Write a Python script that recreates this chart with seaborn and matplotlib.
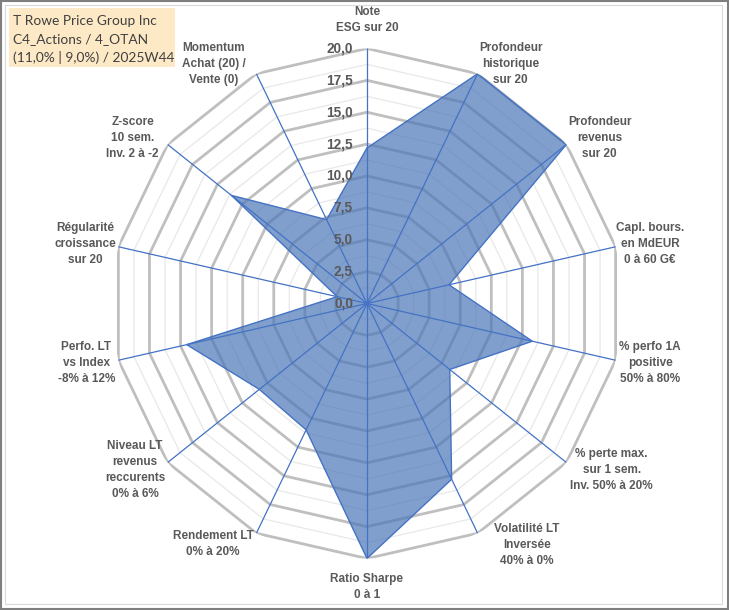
import numpy as np
import pandas as pd
import matplotlib
matplotlib.use("Agg")
import matplotlib.pyplot as plt
import matplotlib.transforms as mtransforms
from matplotlib.patches import Rectangle
import seaborn as sns

# ---------------- data ----------------
categories = [
    "Note\nESG sur 20",
    "Profondeur\nhistorique\nsur 20",
    "Profondeur\nrevenus\nsur 20",
    "Capl. bours.\nen MdEUR\n0 à 60 G€",
    "% perfo 1A\npositive\n50% à 80%",
    "% perte max.\nsur 1 sem.\nInv. 50% à 20%",
    "Volatilité LT\nInversée\n40% à 0%",
    "Ratio Sharpe\n0 à 1",
    "Rendement LT\n0% à 20%",
    "Niveau LT\nrevenus\nreccurents\n0% à 6%",
    "Perfo. LT\nvs Index\n-8% à 12%",
    "Régularité\ncroissance\nsur 20",
    "Z-score\n10 sem.\nInv. 2 à -2",
    "Momentum\nAchat (20) /\nVente (0)",
]
values = [12.2, 20.0, 20.0, 6.6, 13.3, 8.3, 15.3, 20.0, 11.0, 10.8, 14.5, 2.4, 13.6, 7.3]
tick_values = [0, 2.5, 5, 7.5, 10, 12.5, 15, 17.5, 20]
tick_labels = ["0,0", "2,5", "5,0", "7,5", "10,0", "12,5", "15,0", "17,5", "20,0"]
title_lines = ["T Rowe Price Group Inc", "C4_Actions / 4_OTAN", "(11,0% | 9,0%) / 2025W44"]

# label placement (angle in degrees clockwise from top, radius in axis units)
label_angles = [0, 31, 54.6, 78.1, 101.8, 124.2, 146.4, 180, 212.6, 234.3, 258, 281.9, 305.2, 327.4]
label_radii = [22.2, 21.9, 22.4, 22.7, 22.7, 23.2, 22.7, 22.2, 22.4, 22.4, 22.5, 22.6, 22.5, 22.3]

# ---------------- style ----------------
sns.set_theme(style="white")
plt.rcParams["font.family"] = ["Liberation Sans", "DejaVu Sans"]

W, H = 729, 610
fig = plt.figure(figsize=(W / 100, H / 100), dpi=100)
fig.patch.set_facecolor("white")

cx, cy, R = 367, 303.5, 255
ax = fig.add_axes([(cx - R) / W, (H - cy - R) / H, 2 * R / W, 2 * R / H], projection="polar")
ax.set_facecolor("none")
ax.set_theta_zero_location("N")
ax.set_theta_direction(-1)
ax.set_ylim(0, 20)
ax.spines["polar"].set_visible(False)

n = len(categories)
angles = np.arange(n) * 2 * np.pi / n
closed = np.append(angles, angles[0])

# spokes (theta grid)
ax.set_xticks(angles)
ax.set_xticklabels([])
ax.xaxis.grid(True, color="#4472C4", linewidth=0.9, zorder=4)
ax.yaxis.grid(False)
ax.set_yticks([])
ax.set_axisbelow(False)

# polygon grid: minor and major
for lvl in np.arange(1.25, 20.01, 2.5):
    ax.plot(closed, [lvl] * (n + 1), color="#E8E8E8", linewidth=0.9, zorder=1)
for lvl in tick_values[1:]:
    ax.plot(closed, [lvl] * (n + 1), color="#BFBFBF", linewidth=2.0, zorder=1,
            solid_joinstyle="miter")

# data polygon
df = pd.DataFrame({"theta": closed, "r": np.append(values, values[0])})
ax.fill(df["theta"], df["r"], color=(0.30, 0.47, 0.72), alpha=0.71, zorder=2, linewidth=0)
sns.lineplot(data=df, x="theta", y="r", sort=False, ax=ax, color="#4472C4",
             linewidth=1.0, zorder=3, estimator=None)
ax.set_xlabel("")
ax.set_ylabel("")
ax.set_ylim(0, 20)

# radial tick labels
off = mtransforms.offset_copy(ax.transData, fig=fig, x=-14, y=0, units="dots")
for v, t in zip(tick_values, tick_labels):
    ax.text(0, v, t, transform=off, ha="right", va="center", fontsize=9.8,
            fontweight="bold", color="#595959", zorder=6)

# category labels
for lab, a, r in zip(categories, label_angles, label_radii):
    ax.text(np.deg2rad(a), r, lab, ha="center", va="center", fontsize=8.5,
            fontweight="bold", color="#595959", linespacing=1.45, clip_on=False)

# title box
fig.patches.append(Rectangle((9 / W, 1 - 67 / H), 166 / W, 59 / H, transform=fig.transFigure,
                             facecolor="#FDE9C6", edgecolor="none", zorder=0))
for i, line in enumerate(title_lines):
    fig.text(13 / W, 1 - (21 + 18 * i) / H, line, ha="left", va="center", fontsize=9.9,
             color="#404040", family=["Lato", "DejaVu Sans"])

# chart borders
fig.patches.append(Rectangle((0.8 / W, 0.8 / H), (W - 1.6) / W, (H - 1.6) / H,
                             transform=fig.transFigure, facecolor="none",
                             edgecolor="#7F7F7F", linewidth=1.5, zorder=10))
fig.patches.append(Rectangle((5 / W, 6 / H), (W - 12) / W, (H - 11) / H,
                             transform=fig.transFigure, facecolor="none",
                             edgecolor="#D9D9D9", linewidth=0.8, zorder=10))

fig.savefig("out.png", dpi=100)
